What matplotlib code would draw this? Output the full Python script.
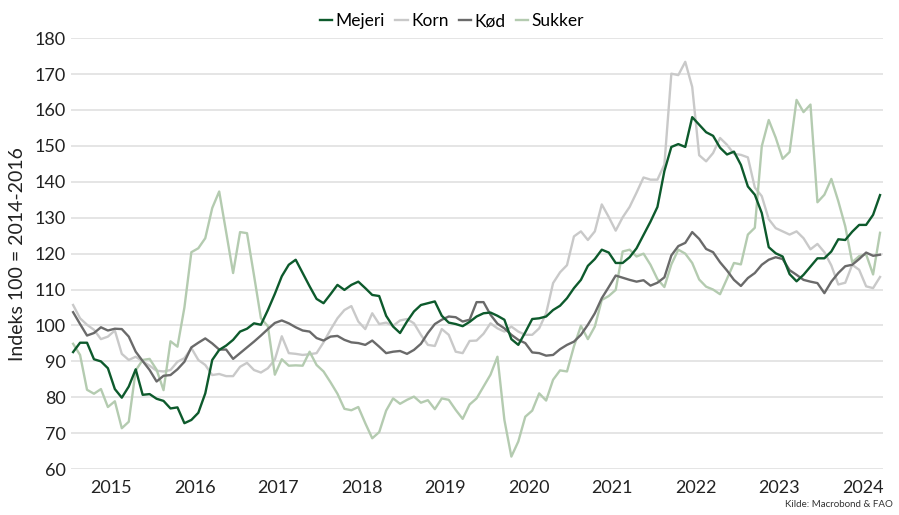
# FAO prisindeks pr. varegruppe, månedlig jan 2015 - sep 2024
import matplotlib
matplotlib.use('Agg')
import matplotlib.pyplot as plt
import numpy as np

plt.rcParams['font.family'] = ['Lato', 'DejaVu Sans']

# Data (indeks 100 = 2014-2016), en værdi pr. måned
mejeri = [92.6, 95.2, 95.2, 90.6, 90.0, 88.1, 82.3, 79.9, 83.0, 87.8, 80.7, 80.9,
          79.6, 79.0, 76.9, 77.2, 72.8, 73.7, 75.7, 81.1, 90.4, 93.2, 94.4, 96.0,
          98.3, 99.1, 100.6, 100.2, 104.3, 108.8, 113.7, 116.9, 118.3, 114.6, 110.9, 107.4,
          106.2, 108.7, 111.3, 109.9, 111.3, 112.2, 110.4, 108.5, 108.2, 102.7, 99.7, 97.9,
          101.1, 103.9, 105.7, 106.2, 106.7, 102.7, 100.8, 100.4, 99.8, 101.0, 102.5, 103.4,
          103.6, 102.7, 101.6, 96.2, 94.6, 98.1, 101.8, 102.0, 102.5, 104.3, 105.5, 107.6,
          110.4, 112.7, 116.6, 118.5, 121.1, 120.3, 117.4, 117.4, 119.0, 121.5, 125.2, 128.9,
          133.0, 143.0, 149.7, 150.5, 149.7, 158.0, 155.9, 153.8, 152.8, 149.5, 147.6, 148.4,
          144.7, 138.7, 136.4, 131.3, 121.8, 120.1, 119.2, 114.3, 112.3, 114.1, 116.4, 118.7,
          118.7, 120.6, 124.0, 123.8, 126.1, 128.0, 128.0, 130.8, 136.3]

korn = [105.7, 102.0, 100.2, 98.8, 96.2, 96.9, 98.6, 92.1, 90.4, 91.3, 90.0, 88.8,
        87.4, 87.2, 87.6, 89.9, 90.9, 93.7, 90.4, 89.0, 86.2, 86.5, 85.9, 85.9,
        88.5, 89.6, 87.6, 86.9, 88.1, 90.5, 97.0, 92.3, 92.1, 91.8, 92.0, 92.3,
        95.3, 98.8, 102.0, 104.3, 105.4, 101.1, 99.0, 103.4, 100.4, 100.8, 99.9, 101.4,
        101.8, 100.6, 97.4, 94.6, 94.3, 99.0, 97.4, 92.7, 92.3, 95.7, 95.8, 97.7,
        100.6, 99.2, 98.3, 99.7, 98.3, 97.4, 97.4, 99.2, 103.4, 111.8, 114.8, 116.8,
        124.8, 126.2, 123.8, 126.2, 133.7, 130.2, 126.4, 130.1, 133.0, 137.0, 141.2, 140.6,
        140.6, 144.8, 170.1, 169.7, 173.4, 166.4, 147.4, 145.7, 148.0, 152.2, 150.3, 147.8,
        147.5, 146.8, 138.4, 136.0, 129.6, 127.1, 126.2, 125.3, 126.2, 124.3, 121.2, 122.7,
        120.4, 116.7, 111.4, 111.9, 116.9, 115.5, 110.9, 110.4, 113.5]

kod = [103.7, 100.4, 97.2, 97.9, 99.5, 98.6, 99.1, 99.0, 96.9, 92.7, 90.1, 87.6,
       84.4, 86.0, 86.2, 87.8, 89.9, 93.9, 95.2, 96.4, 95.0, 93.3, 93.3, 90.7,
       92.3, 93.9, 95.5, 97.2, 99.0, 100.7, 101.4, 100.6, 99.5, 98.6, 98.3, 96.5,
       95.8, 96.9, 97.1, 96.0, 95.3, 95.1, 94.6, 95.8, 94.1, 92.3, 92.7, 92.9,
       92.1, 93.2, 94.9, 97.9, 100.4, 101.6, 102.5, 102.3, 101.1, 101.6, 106.5, 106.5,
       103.0, 100.5, 99.2, 97.4, 96.0, 95.1, 92.5, 92.3, 91.6, 91.8, 93.4, 94.6,
       95.5, 97.4, 100.2, 103.4, 107.6, 110.7, 113.9, 113.3, 112.7, 112.2, 112.6, 111.1,
       111.9, 113.4, 119.5, 122.1, 123.0, 126.0, 124.1, 121.3, 120.4, 117.6, 115.3, 112.7,
       111.0, 113.2, 114.6, 116.9, 118.3, 119.0, 118.5, 115.4, 114.1, 112.7, 112.2, 111.8,
       109.0, 112.2, 114.6, 116.5, 116.9, 118.5, 120.3, 119.4, 119.7]

sukker = [94.9, 91.8, 82.1, 81.0, 82.3, 77.3, 78.9, 71.4, 73.2, 87.5, 90.4, 90.7,
          87.7, 82.0, 95.6, 94.1, 105.0, 120.4, 121.5, 124.3, 132.7, 137.3, 126.0, 114.6,
          126.0, 125.7, 114.0, 102.0, 99.8, 86.3, 90.6, 88.8, 88.9, 88.8, 92.7, 89.0,
          87.2, 84.2, 81.0, 76.8, 76.4, 77.3, 72.8, 68.6, 70.3, 76.3, 79.7, 78.2,
          79.3, 80.2, 78.5, 79.2, 76.7, 79.7, 79.3, 76.5, 74.0, 78.0, 79.7, 83.0,
          86.3, 91.3, 73.7, 63.5, 67.7, 74.6, 76.3, 81.1, 79.1, 84.9, 87.5, 87.2,
          94.2, 99.9, 96.2, 99.7, 107.1, 108.2, 109.9, 120.6, 121.1, 119.2, 120.0, 116.9,
          112.9, 110.7, 117.0, 121.1, 120.0, 117.4, 112.8, 110.8, 110.0, 108.7, 113.0, 117.4,
          117.0, 125.3, 127.2, 149.9, 157.2, 152.3, 146.4, 148.3, 162.8, 159.4, 161.5, 134.3,
          136.4, 140.8, 134.6, 127.6, 117.6, 119.3, 119.8, 114.2, 125.8]

years = [str(y) for y in range(2015, 2025)]

maaned = np.arange(len(mejeri))

fig = plt.figure(figsize=(8.99, 5.15), dpi=100)
ax = fig.add_axes([0.079, 0.089, 0.903, 0.837])

lw = 1.7
ax.plot(maaned, korn, color='#c9c9c9', lw=lw, label='Korn', zorder=3)
ax.plot(maaned, sukker, color='#b4cbb0', lw=lw, label='Sukker', zorder=3)
ax.plot(maaned, kod, color='#6a6a6a', lw=lw, label='Kød', zorder=4)
ax.plot(maaned, mejeri, color='#0d5a2c', lw=lw, label='Mejeri', zorder=5)

ax.set_ylim(60, 180)
ax.set_yticks(range(60, 181, 10))
ax.set_xlim(-0.3, 116.4)
ax.set_xticks([5.5 + 12 * i for i in range(len(years))])
ax.set_xticklabels(years)
ax.tick_params(length=0, labelsize=13, colors='#222222')
ax.tick_params(axis='y', pad=4)
ax.tick_params(axis='x', pad=8)
ax.grid(axis='y', color='#dedede', lw=1.1)
ax.set_axisbelow(True)
for s in ax.spines.values():
    s.set_visible(False)

ax.set_ylabel('Indeks 100 = 2014-2016', fontsize=14, color='#222222', labelpad=6)

h, l = ax.get_legend_handles_labels()
order = [3, 0, 2, 1]
fig.legend([h[i] for i in order], [l[i] for i in order], loc='upper center',
           bbox_to_anchor=(0.503, 1.005), ncol=4, frameon=False, fontsize=12.5,
           handlelength=0.7, handletextpad=0.2, columnspacing=0.6)

fig.text(0.993, 0.012, 'Kilde: Macrobond & FAO', ha='right', va='bottom',
         fontsize=7, color='#333333')

fig.savefig('out.png', dpi=100)
